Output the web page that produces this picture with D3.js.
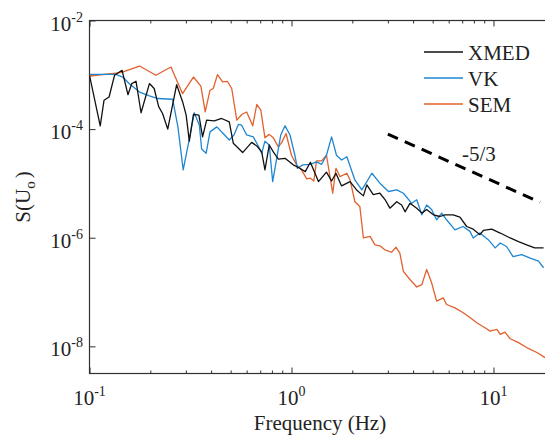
<!DOCTYPE html>
<html>
<head>
<meta charset="utf-8">
<script src="https://cdn.jsdelivr.net/npm/d3@7/dist/d3.min.js"></script>
<style>
  html, body { margin: 0; padding: 0; background: #fff; }
  svg { display: block; }
  svg text { font-family: "Liberation Serif", "Times New Roman", Times, "DejaVu Serif", serif; fill: #222; }
</style>
</head>
<body>
<svg id="chart" width="545" height="437" font-family="Liberation Serif, Times New Roman, serif"></svg>
<script>
// ---------------- DATA ----------------
const seriesNames = ["XMED", "VK", "SEM"];

const xmedF = [0.1,0.113,0.118,0.125,0.133,0.145,0.155,0.162,0.170,0.180,0.198,0.209,0.220,0.230,0.244,0.270,0.289,0.301,0.312,0.327,0.348,0.363,0.380,0.415,0.451,0.492,0.515,0.573,0.635,0.673,0.712,0.739,0.776,0.813,0.861,0.929,1.02,1.10,1.17,1.24,1.36,1.49,1.58,1.66,1.77,1.95,2.10,2.27,2.36,2.54,2.74,2.90,3.07,3.32,3.51,3.65,3.86,4.17,4.42,4.67,5.04,5.43,5.75,6.32,6.82,7.37,7.94,8.57,8.91,9.80,10.8,12.1,13.3,14.6,16.0,17.7];
const xmedS = [9.8e-4,1.15e-4,3.4e-4,3.9e-4,9.8e-4,1.21e-3,4.3e-4,6.9e-4,7.6e-4,2.0e-4,6.9e-4,5.6e-4,2.6e-4,1.94e-4,1.0e-4,6.6e-4,3.2e-4,1.81e-4,6.0e-5,1.86e-4,1.81e-4,7.2e-5,1.46e-4,1.42e-4,1.57e-4,1.36e-4,5.5e-5,3.7e-5,5.7e-5,4.9e-5,3.8e-5,1.77e-5,5.1e-5,3.8e-5,2.8e-5,2.9e-5,2.2e-5,1.9e-5,1.65e-5,2.45e-5,1.08e-5,1.61e-5,1.11e-5,1.54e-5,9.0e-6,1.08e-5,7.6e-6,5.9e-6,9.4e-6,6.2e-6,6.6e-6,5.1e-6,3.5e-6,4.6e-6,4.0e-6,3.0e-6,4.3e-6,3.5e-6,2.84e-6,3.3e-6,2.64e-6,2.46e-6,2.64e-6,2.64e-6,2.4e-6,1.61e-6,1.44e-6,1.14e-6,1.36e-6,1.44e-6,1.22e-6,9.9e-7,8.5e-7,7.4e-7,6.5e-7,6.5e-7];

const vkF = [0.1,0.135,0.146,0.157,0.177,0.198,0.218,0.258,0.274,0.291,0.310,0.330,0.350,0.359,0.378,0.395,0.427,0.459,0.492,0.519,0.546,0.567,0.600,0.647,0.693,0.712,0.739,0.776,0.807,0.845,0.885,0.929,0.983,1.04,1.07,1.14,1.24,1.33,1.41,1.49,1.58,1.67,1.77,1.88,2.06,2.23,2.50,2.74,3.02,3.32,3.58,3.94,4.17,4.42,4.67,4.94,5.23,5.54,5.86,6.45,7.08,7.65,7.94,8.57,9.42,10.2,10.8,11.6,12.5,13.8,15.2,16.7,17.7];
const vkS = [1.02e-3,1.02e-3,9.1e-4,6.9e-4,4.8e-4,4.1e-4,3.66e-4,3.55e-4,1.1e-4,1.77e-5,5.8e-5,2.0e-4,1.18e-4,4.3e-5,3.6e-5,8.9e-5,1.1e-4,8.3e-5,6.3e-5,7.8e-5,1.22e-4,1.18e-4,7.8e-5,7.2e-5,4.5e-5,3.6e-5,6.0e-5,5.1e-5,1.08e-5,2.9e-5,7.8e-5,1.15e-4,7.8e-5,3.3e-5,1.9e-5,2.2e-5,2.25e-5,2.5e-5,2.25e-5,3.3e-5,7.2e-5,3.3e-5,2.7e-5,3.1e-5,1.16e-5,7.6e-6,1.54e-5,1.01e-5,7.1e-6,7.6e-6,6.6e-6,4.3e-6,5.0e-6,2.64e-6,4.0e-6,3.3e-6,2.14e-6,2.84e-6,2.14e-6,1.4e-6,1.61e-6,1.31e-6,9.9e-7,1.22e-6,9.2e-7,6.5e-7,8.0e-7,6.9e-7,4.5e-7,4.9e-7,4.2e-7,3.7e-7,2.8e-7];

const semF = [0.1,0.143,0.177,0.213,0.253,0.289,0.327,0.356,0.374,0.395,0.410,0.430,0.456,0.481,0.506,0.536,0.567,0.600,0.643,0.673,0.705,0.739,0.776,0.813,0.861,0.895,0.940,1.00,1.06,1.12,1.19,1.24,1.29,1.33,1.41,1.49,1.60,1.66,1.74,1.88,1.95,2.06,2.18,2.27,2.45,2.59,2.74,2.90,3.13,3.29,3.44,3.58,3.86,4.17,4.42,4.67,4.94,5.23,5.64,5.86,6.45,7.08,7.65,8.26,9.08,9.62,10.4,10.8,11.4,12.1,13.3,14.6,16.4,18.0];
const semS = [9.5e-4,1.1e-3,1.45e-3,9.8e-4,1.39e-3,4.5e-4,9.1e-4,6.2e-4,2.07e-4,5.2e-4,5.6e-4,1.01e-3,7.4e-4,7.6e-4,5.6e-4,1.46e-4,1.86e-4,2.07e-4,1.15e-4,2.84e-4,2.23e-4,6.9e-5,8.0e-5,6.9e-5,4.7e-5,5.7e-5,8.3e-5,3.3e-5,2.2e-5,1.77e-5,1.21e-5,1.25e-5,1.11e-5,2.6e-5,2.6e-5,3.3e-5,6.6e-6,1.9e-5,1.33e-5,1.54e-5,1.16e-5,4.6e-6,3.75e-6,9.9e-7,1.06e-6,7.4e-7,7.1e-7,6.0e-7,5.4e-7,6.7e-7,5.2e-7,2.41e-7,1.7e-7,1.24e-7,1.37e-7,2.6e-7,1.48e-7,6.8e-8,7.8e-8,5.9e-8,5.1e-8,4.15e-8,3.4e-8,2.72e-8,2.2e-8,1.91e-8,2.05e-8,1.66e-8,1.83e-8,1.38e-8,1.17e-8,9.5e-9,7.7e-9,6.2e-9];

// reference slope line (-5/3)
const slopeF = [3, 17];
const slopeS = [8.1e-5, 4.5e-6];
const slopeLabel = "-5/3";

const xMajorTicks = [0.1, 1, 10];
const xTickExponents = ["-1", "0", "1"];
const yMajorTicks = [1e-8, 1e-6, 1e-4, 1e-2];
const yTickExponents = ["-8", "-6", "-4", "-2"];
const xDomain = [0.1, 18.2];
const yDomain = [3.162e-9, 1e-2];

// ---------------- LAYOUT ----------------
const FONT = "'Liberation Serif', 'Times New Roman', Times, serif";
const colors = { XMED: "#111111", VK: "#1f86d2", SEM: "#e2612d" };
const pLeft = 89.5, pRight = 546, pTop = 20.5, pBottom = 373.5;

const svg = d3.select("#chart");
const x = d3.scaleLog().domain(xDomain).range([pLeft, pRight]);
const y = d3.scaleLog().domain(yDomain).range([pBottom, pTop]);

const xMinor = [];
[0.1, 1, 10].forEach(d => { for (let k = 2; k <= 9; k++) { const v = d * k; if (v <= xDomain[1]) xMinor.push(v); } });
const xAllTicks = xMajorTicks.concat(xMinor);
const isMajor = v => xMajorTicks.some(m => Math.abs(m - v) / m < 1e-6);

const axisColor = "#303030";

function styleAxis(g) {
  g.select(".domain").remove();
  g.selectAll(".tick text").remove();
  g.selectAll(".tick line").attr("stroke", axisColor).attr("stroke-width", 1);
}

function addText(attrs) {
  const t = svg.append("text").style("font-family", FONT).attr("fill", "#222");
  Object.entries(attrs).forEach(([k, v]) => t.attr(k, v));
  return t;
}

// bottom axis
const gB = svg.append("g").attr("transform", `translate(0,${pBottom})`)
  .call(d3.axisBottom(x).tickValues(xAllTicks).tickSizeInner(-6).tickSizeOuter(0));
styleAxis(gB);
gB.selectAll(".tick line").attr("y2", d => isMajor(d) ? -6 : -3);

// top axis
const gT = svg.append("g").attr("transform", `translate(0,${pTop})`)
  .call(d3.axisTop(x).tickValues(xAllTicks).tickSizeInner(-6).tickSizeOuter(0));
styleAxis(gT);
gT.selectAll(".tick line").attr("y2", d => isMajor(d) ? 6 : 3);

// left axis
const gL = svg.append("g").attr("transform", `translate(${pLeft},0)`)
  .call(d3.axisLeft(y).tickValues(yMajorTicks).tickSizeInner(-6).tickSizeOuter(0));
styleAxis(gL);

// frame
svg.append("rect").attr("x", pLeft).attr("y", pTop).attr("width", pRight - pLeft).attr("height", pBottom - pTop)
  .attr("fill", "none").attr("stroke", axisColor).attr("stroke-width", 1.2);

// tick labels
xMajorTicks.forEach((v, i) => {
  const t = addText({ x: x(v), y: 405, "text-anchor": "middle", "font-size": 21 });
  t.append("tspan").text("10");
  t.append("tspan").attr("font-size", 14).attr("dy", -9).text(xTickExponents[i]);
});
yMajorTicks.forEach((v, i) => {
  const t = addText({ x: 83, y: y(v) + 10, "text-anchor": "end", "font-size": 21 });
  t.append("tspan").text("10");
  t.append("tspan").attr("font-size", 14).attr("dy", -9).text(yTickExponents[i]);
});

// axis titles
addText({ x: 320, y: 430, "text-anchor": "middle", "font-size": 21 }).text("Frequency (Hz)");
const yl = addText({ transform: "translate(30,197) rotate(-90)", "text-anchor": "middle", "font-size": 21 });
yl.append("tspan").text("S(U");
yl.append("tspan").attr("font-size", 15).attr("dy", 5).text("o");
yl.append("tspan").attr("dy", -5).attr("dx", 3).text(")");

// clip
svg.append("clipPath").attr("id", "plotclip").append("rect")
  .attr("x", pLeft).attr("y", pTop).attr("width", pRight - pLeft).attr("height", pBottom - pTop);

const line = d3.line().x(d => x(d[0])).y(d => y(d[1]));
const seriesData = {
  XMED: d3.zip(xmedF, xmedS),
  VK: d3.zip(vkF, vkS),
  SEM: d3.zip(semF, semS)
};
const plot = svg.append("g").attr("clip-path", "url(#plotclip)");
["SEM", "VK", "XMED"].forEach(name => {
  plot.append("path").datum(seriesData[name])
    .attr("fill", "none").attr("stroke", colors[name]).attr("stroke-width", 1.3)
    .attr("stroke-linejoin", "round").attr("d", line);
});

// slope line
plot.append("path").datum(d3.zip(slopeF, slopeS))
  .attr("fill", "none").attr("stroke", "#000").attr("stroke-width", 3)
  .attr("stroke-dasharray", "11,7.5").attr("d", line);
addText({ x: 462, y: 161, "font-size": 21 }).text(slopeLabel);

// legend
const legY = [52, 78, 104];
seriesNames.forEach((name, i) => {
  svg.append("line").attr("x1", 424).attr("x2", 463).attr("y1", legY[i]).attr("y2", legY[i])
    .attr("stroke", colors[name]).attr("stroke-width", 1.3);
  addText({ x: 468, y: legY[i] + 7.5, "font-size": 21 }).text(name);
});
</script>
</body>
</html>
